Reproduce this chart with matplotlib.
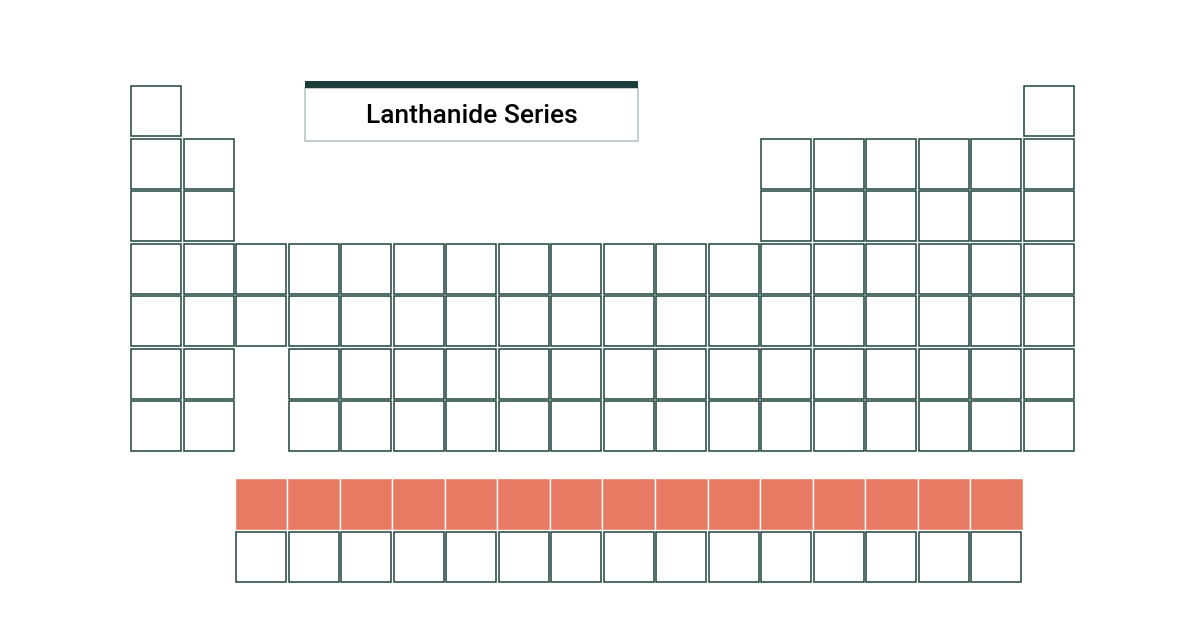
import matplotlib
matplotlib.use("Agg")
import matplotlib.pyplot as plt
from matplotlib.patches import Rectangle

# Periodic table layout: (row, list of group columns occupied)
main_rows = [
    [1, 18],
    [1, 2] + list(range(13, 19)),
    [1, 2] + list(range(13, 19)),
    list(range(1, 19)),
    list(range(1, 19)),
    [1, 2] + list(range(4, 19)),
    [1, 2] + list(range(4, 19)),
]
lanthanide_cols = list(range(3, 18))
actinide_cols = list(range(3, 18))
title = "Lanthanide Series"

W, H = 1201, 631
fig = plt.figure(figsize=(W/100, H/100), dpi=100)
ax = fig.add_axes([0, 0, 1, 1])
ax.set_xlim(0, W); ax.set_ylim(H, 0); ax.axis("off")

x0, y0, pitch, size = 131, 86, 52.53, 50
edge = "#1f4440"
def cell(col, rowy, fill="white", ec=edge):
    ax.add_patch(Rectangle((x0 + (col-1)*pitch, rowy), size, size,
                           facecolor=fill, edgecolor=ec, linewidth=1.1))

for r, cols in enumerate(main_rows):
    for c in cols:
        cell(c, y0 + r*pitch)
ly = y0 + 6*pitch + 78
for c in lanthanide_cols:
    ax.add_patch(Rectangle((x0 + (c-1)*pitch - 1.3, ly - 1.3), pitch, pitch,
                           facecolor="#e67a63", edgecolor="white", linewidth=1.0))
for c in actinide_cols:
    cell(c, ly + pitch)

# title box
ax.add_patch(Rectangle((305, 88), 333, 53, facecolor="white", edgecolor="#b9c7c5", linewidth=1.2))
ax.add_patch(Rectangle((305, 81), 333, 7, facecolor="#1a3d3a", edgecolor="none"))
ax.text(471.5, 116, title, ha="center", va="center", fontsize=19,
        family="Roboto", fontweight="medium", color="black")

fig.savefig("out.png", dpi=100)
